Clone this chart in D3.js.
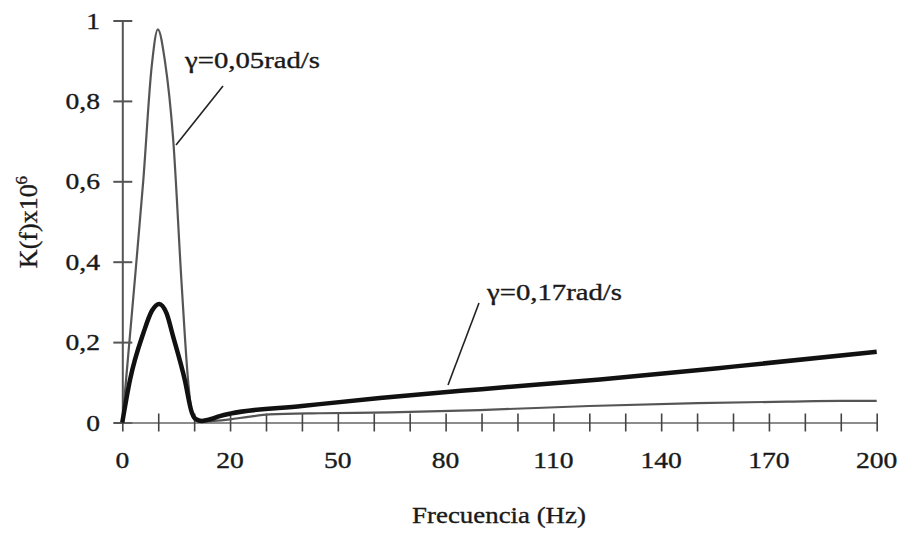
<!DOCTYPE html>
<html><head><meta charset="utf-8">
<script src="https://cdn.jsdelivr.net/npm/d3@7"></script>
<style>body{margin:0;background:#fff}svg{display:block}text{stroke:#1a1a1a;stroke-width:0.35px}</style>
</head><body>
<svg id="c" width="899" height="534"></svg>
<script>
// Frequency (Hz) and K(f)x10^6 values
const freqThin = [0, 2.0, 3.9, 5.45, 6.6, 7.9, 9.45, 11.0, 12.25, 13.1, 14.4, 17, 20, 25, 31, 45, 64.5, 89.5, 120, 150, 175, 190, 200];
const kThin    = [0, 0.305, 0.603, 0.885, 0.978, 0.90, 0.703, 0.347, 0.098, 0.012, 0.002, 0.004, 0.008, 0.014, 0.020, 0.023, 0.025, 0.031, 0.041, 0.048, 0.052, 0.054, 0.054];
const freqThick = [0, 1.43, 3.9, 5.5, 6.85, 8.2, 9.45, 11.6, 12.9, 13.7, 14.75, 16.3, 18.1, 20, 40, 61.7, 90, 123, 160, 200];
const kThick    = [0, 0.106, 0.222, 0.278, 0.295, 0.272, 0.213, 0.106, 0.025, 0.008, 0.004, 0.008, 0.016, 0.022, 0.041, 0.061, 0.083, 0.107, 0.139, 0.176];
const xTickValues = [0, 6.667, 13.333, 20, 30, 40, 50, 60, 70, 80, 90, 100, 110, 120, 130, 140, 150, 160, 170, 180, 190, 200];
const xTickLabels = [0, 20, 50, 80, 110, 140, 170, 200];
const yTickValues = [0, 0.2, 0.4, 0.6, 0.8, 1];
const seriesLabels = ["γ=0,05rad/s", "γ=0,17rad/s"];

(function () {
const svg = d3.select("#c");
const mLeft = 122.3, mRight = 876.7, mTop = 20.5, mBottom = 422.5;
const x = d3.scaleLinear().domain([0, 20, 200]).range([mLeft, mLeft + 3 / 21 * (mRight - mLeft), mRight]);
const y = d3.scaleLinear().domain([0, 1]).range([mBottom, mTop]);
const font = "'Liberation Serif','Times New Roman',serif";
const sx = 1.2;

// Y axis
const gy = svg.append("g").attr("transform", `translate(${mLeft},0)`)
  .call(d3.axisLeft(y).tickValues(yTickValues).tickSize(0).tickFormat(""));
gy.select(".domain").attr("stroke", "#555").attr("stroke-width", 2);
gy.selectAll(".tick line").attr("x1", -9).attr("x2", 10).attr("stroke", "#555").attr("stroke-width", 2);
svg.append("g").selectAll("text").data(yTickValues).join("text")
  .attr("transform", d => `translate(100,${y(d) + 8}) scale(${sx},1)`)
  .attr("text-anchor", "end").attr("font-family", font).attr("font-size", 23).attr("fill", "#1a1a1a")
  .text(d => d3.format(".1~f")(d).replace(".", ","));

// X axis
const gx = svg.append("g").attr("transform", `translate(0,${mBottom})`)
  .call(d3.axisBottom(x).tickValues(xTickValues).tickSize(0).tickFormat(""));
gx.select(".domain").attr("stroke", "#666").attr("stroke-width", 1.6);
gx.selectAll(".tick line").attr("y1", -9).attr("y2", 9).attr("stroke", "#444").attr("stroke-width", 1.6);
svg.append("g").selectAll("text").data(xTickLabels).join("text")
  .attr("transform", d => `translate(${x(d)},468) scale(${sx},1)`)
  .attr("text-anchor", "middle").attr("font-family", font).attr("font-size", 23).attr("fill", "#1a1a1a")
  .text(d => d);

// Lines
const line = d3.line().x(d => x(d[0])).y(d => y(d[1])).curve(d3.curveMonotoneX);
svg.append("path").datum(d3.zip(freqThin, kThin)).attr("d", line)
  .attr("fill", "none").attr("stroke", "#555").attr("stroke-width", 2.2);
svg.append("path").datum(d3.zip(freqThick, kThick)).attr("d", line)
  .attr("fill", "none").attr("stroke", "#111").attr("stroke-width", 4.5);

// Annotations
const ann = [
  {t: seriesLabels[0], tx: 185, ty: 68, l: [[223, 86], [176, 145]]},
  {t: seriesLabels[1], tx: 487, ty: 300, l: [[479, 303], [448, 385]]}
];
ann.forEach(a => {
  svg.append("text").attr("transform", `translate(${a.tx},${a.ty}) scale(1.25,1)`)
    .attr("font-family", font).attr("font-size", 23).attr("fill", "#1a1a1a").text(a.t);
  svg.append("line").attr("x1", a.l[0][0]).attr("y1", a.l[0][1]).attr("x2", a.l[1][0]).attr("y2", a.l[1][1])
    .attr("stroke", "#222").attr("stroke-width", 1.6);
});

// Axis titles
svg.append("text").attr("transform", `translate(499,523) scale(1.12,1)`)
  .attr("text-anchor", "middle").attr("font-family", font).attr("font-size", 24).attr("fill", "#1a1a1a")
  .text("Frecuencia (Hz)");
const yt = svg.append("text").attr("transform", "translate(37,222) rotate(-90)")
  .attr("text-anchor", "middle").attr("font-family", font).attr("font-size", 26).attr("fill", "#1a1a1a");
yt.append("tspan").text("K(f)x10");
yt.append("tspan").attr("dy", -10).attr("font-size", 17).text("6");
})();
</script>
</body></html>
